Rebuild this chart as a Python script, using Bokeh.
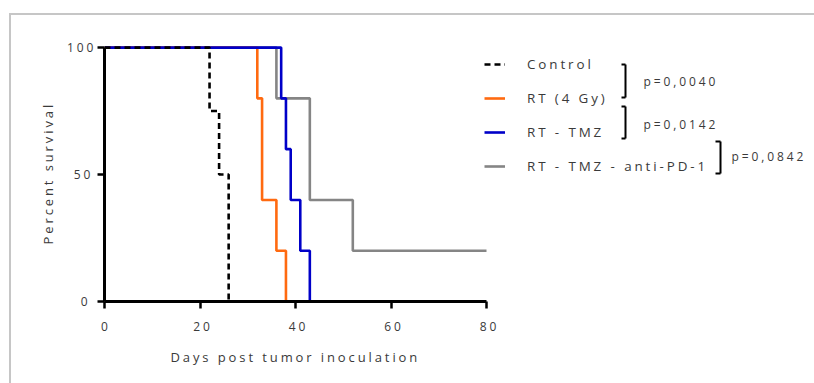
from bokeh.plotting import figure
from bokeh.models import (Range1d, Legend, LegendItem, Label, Arrow, FixedTicker, Title,
                          InlineStyleSheet)
from bokeh.embed import file_html
from bokeh.resources import INLINE

# ---- data (Kaplan-Meier steps) ----
control_days = [0, 22, 24, 26]
control_surv = [100, 75, 50, 0]
rt_days = [0, 32, 33, 36, 38]
rt_surv = [100, 80, 40, 20, 0]
tmz_days = [0, 37, 38, 39, 41, 43]
tmz_surv = [100, 80, 60, 40, 20, 0]
pd1_days = [0, 36, 43, 52, 80]
pd1_surv = [100, 80, 40, 20, 20]

series_names = ["Control", "RT (4 Gy)", "RT - TMZ", "RT - TMZ - anti-PD-1"]
p_values = ["p=0,0040", "p=0,0142", "p=0,0842"]
x_ticks = [0, 20, 40, 60, 80]
y_ticks = [0, 50, 100]
x_max, y_max = 80, 100

FONT = "Open Sans"
TXT = "#3a3a3a"

W, H = 814, 383
FL, FB = 104, 301          # frame left / bottom (page pixels)
X_AXIS_END = 486           # pixel where day 80 sits
FT = 42                    # frame top

# the frame runs to the right edge so that the legend and p-values can live in it;
# the axis itself is bounded to 0..80
x_end = x_max * (W - FL) / (X_AXIS_END - FL)

p = figure(width=W, height=H, x_range=Range1d(0, x_end), y_range=Range1d(0, 102),
           output_backend="svg", toolbar_location=None,
           min_border_left=FL, min_border_right=0, min_border_top=FT,
           min_border_bottom=H - FB)
p.stylesheets = [InlineStyleSheet(css="""
:host { letter-spacing: 2.9px; position: relative; }
:host::before { content: ''; position: absolute; left: 9px; top: 13px; right: 0; bottom: 0;
  border-left: 2px solid #c6c6c6; border-top: 2px solid #c6c6c6; z-index: 10;
  pointer-events: none; }
""")]
p.xgrid.visible = False
p.ygrid.visible = False
p.outline_line_color = None

r_pd1 = p.step(pd1_days, pd1_surv, mode="after", line_color="#858585", line_width=2.6)
r_rt = p.step(rt_days, rt_surv, mode="after", line_color="#FF6A10", line_width=2.6)
r_tmz = p.step(tmz_days, tmz_surv, mode="after", line_color="#0000C8", line_width=2.6)
r_ctrl = p.step(control_days, control_surv, mode="after", line_color="black",
                line_width=2.6, line_dash="6 4")

for ax in (p.xaxis[0], p.yaxis[0]):
    ax.axis_line_width = 3
    ax.axis_line_color = "black"
    ax.major_tick_line_width = 2.5
    ax.major_tick_line_color = "black"
    ax.major_tick_out = 7
    ax.major_tick_in = 0
    ax.minor_tick_out = 0
    ax.minor_tick_in = 0
    ax.major_label_text_font = FONT
    ax.major_label_text_font_size = "12px"
    ax.major_label_text_color = TXT

p.xaxis.ticker = FixedTicker(ticks=x_ticks)
p.yaxis.ticker = FixedTicker(ticks=y_ticks)
p.xaxis.bounds = (0, x_max)
p.yaxis.bounds = (0, y_max)
p.xaxis.major_label_standoff = 13
p.yaxis.major_label_standoff = 10

# axis titles as side titles, start-aligned so the wide letter spacing does not shift them
p.add_layout(Title(text="Days post tumor inoculation", align="left", offset=66, standoff=24,
                   text_font=FONT, text_font_size="13px", text_font_style="normal",
                   text_color=TXT), "below")
p.add_layout(Title(text="Percent survival", align="left", offset=57, standoff=14,
                   text_font=FONT, text_font_size="13px", text_font_style="normal",
                   text_color=TXT), "left")


def sx(px):
    return px - FL


def sy(py):
    return FB - py


legend = Legend(items=[LegendItem(label=n, renderers=[r]) for n, r in
                       zip(series_names, [r_ctrl, r_rt, r_tmz, r_pd1])],
                location=(sx(484), sy(176)), orientation="vertical",
                glyph_width=21, glyph_height=20, label_height=20, label_standoff=22,
                spacing=14, padding=0, margin=0,
                background_fill_alpha=0, border_line_alpha=0,
                label_text_font=FONT, label_text_font_size="13.4px", label_text_color=TXT)
p.add_layout(legend)


def seg(x0, y0, x1, y1, color="black", width=2):
    p.add_layout(Arrow(x_start=sx(x0), y_start=sy(y0), x_end=sx(x1), y_end=sy(y1),
                       start_units="screen", end_units="screen", end=None,
                       line_color=color, line_width=width))


brackets = [(621, 625, 64, 97), (621, 625, 106, 138), (715, 720, 141, 173)]
label_pos = [(643, 81), (643, 124), (731, 156)]
for (xa, xb, ya, yb), (lx, ly), txt in zip(brackets, label_pos, p_values):
    seg(xa, ya, xb, ya)
    seg(xb, ya, xb, yb)
    seg(xb, yb, xa, yb)
    p.add_layout(Label(x=sx(lx), y=sy(ly), x_units="screen", y_units="screen", text=txt,
                       text_align="left", text_baseline="middle", text_font=FONT,
                       text_font_size="12px", text_color=TXT))

open("out.html", "w").write(file_html(p, INLINE))
